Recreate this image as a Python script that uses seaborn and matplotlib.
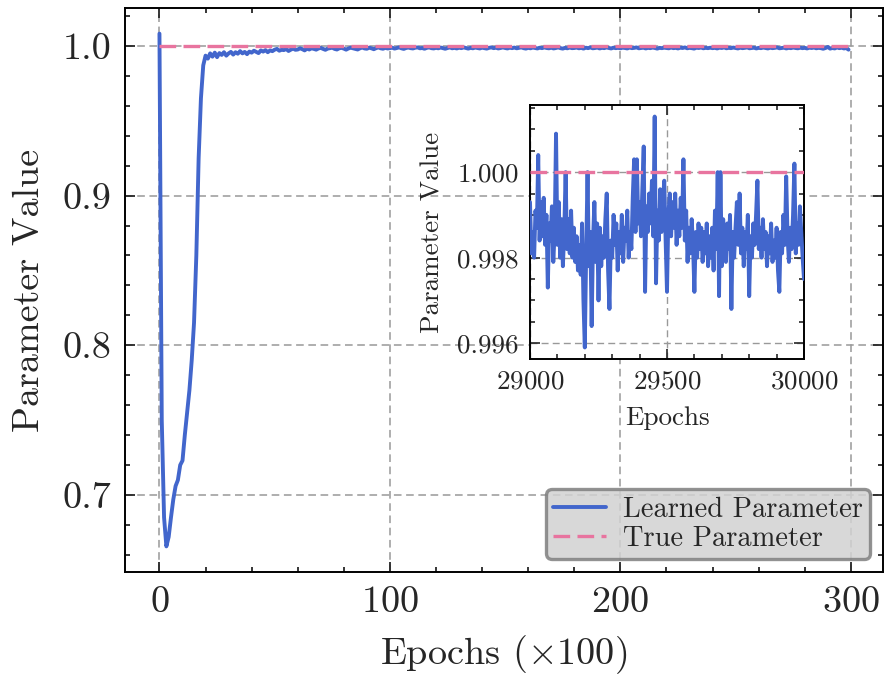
import numpy as np
import pandas as pd
import matplotlib
matplotlib.use("Agg")
import matplotlib.pyplot as plt
from matplotlib.ticker import MultipleLocator, FormatStrFormatter
import seaborn as sns

# ---------------- data ----------------
epochs_x100 = list(range(300))
learned_main = [
    1.0082, 0.750, 0.685, 0.6657, 0.672, 0.685, 0.697, 0.706, 0.710, 0.720, 0.723, 0.740, 0.755, 0.770, 0.790, 0.815, 0.860, 0.925, 0.965, 0.987,
    0.9935, 0.9915, 0.9950, 0.9928, 0.9955, 0.9925, 0.9952, 0.9940, 0.9958, 0.9935, 0.9950, 0.9960, 0.9942, 0.9958, 0.9948, 0.9965, 0.9950, 0.9960, 0.9945, 0.9962,
    0.9955, 0.9968, 0.9960, 0.9952, 0.9970, 0.9962, 0.9972, 0.9958, 0.9970, 0.9965, 0.9975, 0.9980, 0.9968, 0.9974, 0.9972, 0.9980, 0.9966, 0.9975, 0.9982, 0.9974,
    0.9976, 0.9984, 0.9978, 0.9970, 0.9982, 0.9976, 0.9984, 0.9980, 0.9975, 0.9983, 0.9987, 0.9980, 0.9974, 0.9982, 0.9985, 0.9988, 0.9980, 0.9976, 0.9984, 0.9987,
    0.9982, 0.9975, 0.9983, 0.9988, 0.9984, 0.9980, 0.9976, 0.9984, 0.9989, 0.9983, 0.9981, 0.9988, 0.9984, 0.9978, 0.9985, 0.9990, 0.9984, 0.9981, 0.9987, 0.9983,
    0.9985, 0.9988, 0.9982, 0.9986, 0.9990, 0.9984, 0.9980, 0.9986, 0.9989, 0.9985, 0.9983, 0.9988, 0.9990, 0.9984, 0.9986, 0.9981, 0.9987, 0.9990, 0.9985, 0.9983,
    0.9987, 0.9984, 0.9989, 0.9985, 0.9981, 0.9986, 0.9990, 0.9984, 0.9987, 0.9983, 0.9988, 0.9985, 0.9990, 0.9986, 0.9982, 0.9987, 0.9984, 0.9989, 0.9986, 0.9983,
    0.9988, 0.9985, 0.9982, 0.9987, 0.9990, 0.9985, 0.9988, 0.9983, 0.9986, 0.9990, 0.9986, 0.9983, 0.9988, 0.9985, 0.9989, 0.9984, 0.9987, 0.9990, 0.9985, 0.9982,
    0.9987, 0.9984, 0.9989, 0.9986, 0.9983, 0.9988, 0.9985, 0.9990, 0.9986, 0.9984, 0.9988, 0.9983, 0.9986, 0.9990, 0.9985, 0.9982, 0.9987, 0.9984, 0.9989, 0.9985,
    0.9986, 0.9989, 0.9984, 0.9987, 0.9982, 0.9988, 0.9985, 0.9990, 0.9984, 0.9986, 0.9989, 0.9983, 0.9987, 0.9985, 0.9990, 0.9986, 0.9983, 0.9988, 0.9985, 0.9987,
    0.9984, 0.9988, 0.9986, 0.9983, 0.9989, 0.9985, 0.9987, 0.9990, 0.9984, 0.9986, 0.9988, 0.9983, 0.9987, 0.9985, 0.9989, 0.9986, 0.9982, 0.9987, 0.9985, 0.9988,
    0.9986, 0.9984, 0.9989, 0.9985, 0.9987, 0.9983, 0.9988, 0.9986, 0.9990, 0.9984, 0.9987, 0.9985, 0.9982, 0.9988, 0.9986, 0.9989, 0.9984, 0.9987, 0.9985, 0.9988,
    0.9985, 0.9987, 0.9983, 0.9988, 0.9986, 0.9990, 0.9984, 0.9987, 0.9985, 0.9989, 0.9986, 0.9983, 0.9988, 0.9985, 0.9987, 0.9990, 0.9984, 0.9986, 0.9988, 0.9983,
    0.9987, 0.9985, 0.9989, 0.9986, 0.9983, 0.9988, 0.9985, 0.9987, 0.9990, 0.9984, 0.9986, 0.9988, 0.9983, 0.9987, 0.9985, 0.9989, 0.9986, 0.9984, 0.9988, 0.9985,
    0.9987, 0.9983, 0.9988, 0.9986, 0.9989, 0.9984, 0.9987, 0.9985, 0.9981, 0.9986, 0.9993, 0.9982, 0.9986, 0.9983, 0.9990, 0.9985, 0.9988, 0.9983, 0.9986, 0.9975,
]
TRUE_VALUE = 1.0

inset_epochs = list(range(29000, 30001, 5))
learned_inset = [
    0.9993, 0.9981, 0.9986, 0.9980, 0.9991, 0.9987, 1.0004, 0.9984, 0.9993, 0.9985,
    0.9994, 0.9983, 0.9990, 0.9973, 0.9988, 0.9984, 0.9992, 0.9979, 0.9986, 1.0009,
    0.9983, 0.9993, 0.9980, 0.9989, 0.9978, 0.9986, 1.0000, 0.9982, 0.9989, 0.9981,
    0.9991, 0.9980, 0.9987, 0.9979, 0.9985, 0.9977, 0.9983, 0.9976, 0.9988, 0.9970,
    0.9959, 0.9981, 1.0000, 0.9978, 0.9986, 0.9964, 0.9984, 0.9993, 0.9979, 0.9988,
    0.9970, 0.9987, 0.9978, 0.9985, 0.9980, 0.9989, 0.9995, 0.9977, 0.9968, 0.9984,
    0.9980, 0.9990, 0.9983, 0.9988, 0.9977, 0.9986, 0.9981, 0.9990, 0.9979, 0.9987,
    0.9984, 0.9991, 0.9980, 0.9986, 0.9982, 0.9994, 1.0003, 0.9986, 1.0003, 0.9988,
    0.9993, 0.9985, 0.9996, 1.0006, 0.9972, 0.9992, 0.9986, 0.9995, 0.9988, 0.9998,
    0.9985, 1.0013, 0.9974, 0.9991, 0.9984, 0.9996, 0.9986, 0.9993, 0.9998, 0.9984,
    0.9972, 0.9990, 0.9995, 0.9985, 0.9993, 0.9987, 0.9995, 0.9983, 0.9991, 0.9985,
    0.9994, 0.9987, 1.0003, 0.9984, 0.9991, 0.9979, 0.9987, 0.9981, 0.9989, 0.9983,
    0.9972, 0.9986, 0.9980, 0.9988, 0.9982, 0.9987, 0.9979, 0.9986, 0.9981, 0.9988,
    0.9978, 0.9985, 0.9980, 0.9987, 0.9977, 0.9991, 0.9982, 1.0000, 0.9971, 1.0000,
    0.9978, 0.9989, 0.9983, 0.9979, 0.9988, 0.9982, 0.9990, 0.9968, 0.9986, 0.9980,
    0.9987, 0.9993, 0.9983, 0.9995, 0.9981, 0.9987, 0.9978, 0.9986, 0.9982, 0.9990,
    0.9971, 0.9985, 0.9980, 0.9988, 0.9983, 0.9990, 0.9998, 0.9982, 0.9987, 0.9980,
    0.9989, 0.9982, 0.9986, 0.9978, 0.9985, 0.9981, 0.9988, 0.9979, 0.9984, 0.9980,
    0.9987, 0.9977, 0.9972, 0.9986, 0.9981, 0.9990, 0.9983, 0.9999, 0.9985, 0.9979,
    0.9987, 0.9982, 0.9990, 1.0002, 0.9981, 0.9988, 0.9983, 0.9992, 0.9986, 0.9980,
    0.9975,
]

LEARNED_LABEL = "Learned Parameter"
TRUE_LABEL = "True Parameter"

# ---------------- style ----------------
sns.set_style("ticks")
plt.rcParams["font.family"] = ["cmr10", "DejaVu Serif"]
plt.rcParams["mathtext.fontset"] = "cm"
plt.rcParams["axes.formatter.use_mathtext"] = True
plt.rcParams["axes.unicode_minus"] = False

BLUE = "#4266cc"
PINK = "#e8749f"
GRID = "#999999"

main_df = pd.DataFrame({"x": epochs_x100, "learned": learned_main,
                        "true": np.full(len(epochs_x100), TRUE_VALUE)})
inset_df = pd.DataFrame({"x": inset_epochs, "learned": learned_inset,
                         "true": np.full(len(inset_epochs), TRUE_VALUE)})

fig = plt.figure(figsize=(8.84, 6.75), dpi=100)
ax = fig.add_axes([125 / 884, 1 - 572 / 675, (883 - 125) / 884, (572 - 8) / 675])

sns.lineplot(data=main_df, x="x", y="learned", ax=ax, color=BLUE, lw=2.8,
             label=LEARNED_LABEL, zorder=3)
sns.lineplot(data=main_df, x="x", y="true", ax=ax, color=PINK, lw=2.4,
             dashes=False, label=TRUE_LABEL, zorder=4)
ax.lines[1].set_dashes((5.0, 2.2))

ax.xaxis.set_major_locator(MultipleLocator(100))
ax.xaxis.set_minor_locator(MultipleLocator(20))
ax.yaxis.set_major_locator(MultipleLocator(0.1))
ax.yaxis.set_minor_locator(MultipleLocator(0.02))
ax.yaxis.set_major_formatter(FormatStrFormatter("%.1f"))
ax.tick_params(which="both", direction="in", top=True, right=True, width=1.3,
               labelsize=27.5, pad=10)
ax.tick_params(which="major", length=7)
ax.tick_params(which="minor", length=3.5)
for s in ax.spines.values():
    s.set_linewidth(1.4)
    s.set_color("black")
ax.grid(True, which="major", color=GRID, lw=1.1, linestyle=(0, (5, 3)))
ax.set_xlabel(r"Epochs ($\times 100$)", fontsize=27.5, labelpad=10)
ax.set_ylabel("Parameter Value", fontsize=27.5, labelpad=12)

leg = ax.legend(loc="lower right", fontsize=20.5, frameon=True, fancybox=True,
                facecolor="#d2d2d2", edgecolor="#7f7f7f", framealpha=0.85,
                borderaxespad=0.45, handlelength=1.85, handletextpad=0.6,
                borderpad=0.25, labelspacing=0.1)
leg.get_frame().set_linewidth(2.4)
leg.set_zorder(10)

# ---------------- inset ----------------
axi = fig.add_axes([530 / 884, 1 - 359 / 675, (804 - 530) / 884, (359 - 105) / 675])
axi.set_facecolor("white")
sns.lineplot(data=inset_df, x="x", y="learned", ax=axi, color=BLUE, lw=2.8,
             legend=False, zorder=3)
sns.lineplot(data=inset_df, x="x", y="true", ax=axi, color=PINK, lw=2.4,
             legend=False, zorder=4)
axi.lines[1].set_dashes((5.0, 2.2))
axi.set_xlim(inset_epochs[0], inset_epochs[-1])
axi.xaxis.set_major_locator(MultipleLocator(500))
axi.xaxis.set_minor_locator(MultipleLocator(100))
axi.yaxis.set_major_locator(MultipleLocator(0.002))
axi.yaxis.set_minor_locator(MultipleLocator(0.0005))
axi.yaxis.set_major_formatter(FormatStrFormatter("%.3f"))
axi.tick_params(which="both", direction="in", top=True, right=True, width=1.2,
                labelsize=19.5, pad=8)
axi.tick_params(which="major", length=7)
axi.tick_params(which="minor", length=3.5)
for s in axi.spines.values():
    s.set_linewidth(1.4)
    s.set_color("black")
axi.grid(True, which="major", color=GRID, lw=1.0, linestyle=(0, (5, 3)))
axi.set_xlabel("Epochs", fontsize=19.5, labelpad=9)
axi.set_ylabel("Parameter Value", fontsize=19.5, labelpad=9)

fig.savefig("out.png", dpi=100)
